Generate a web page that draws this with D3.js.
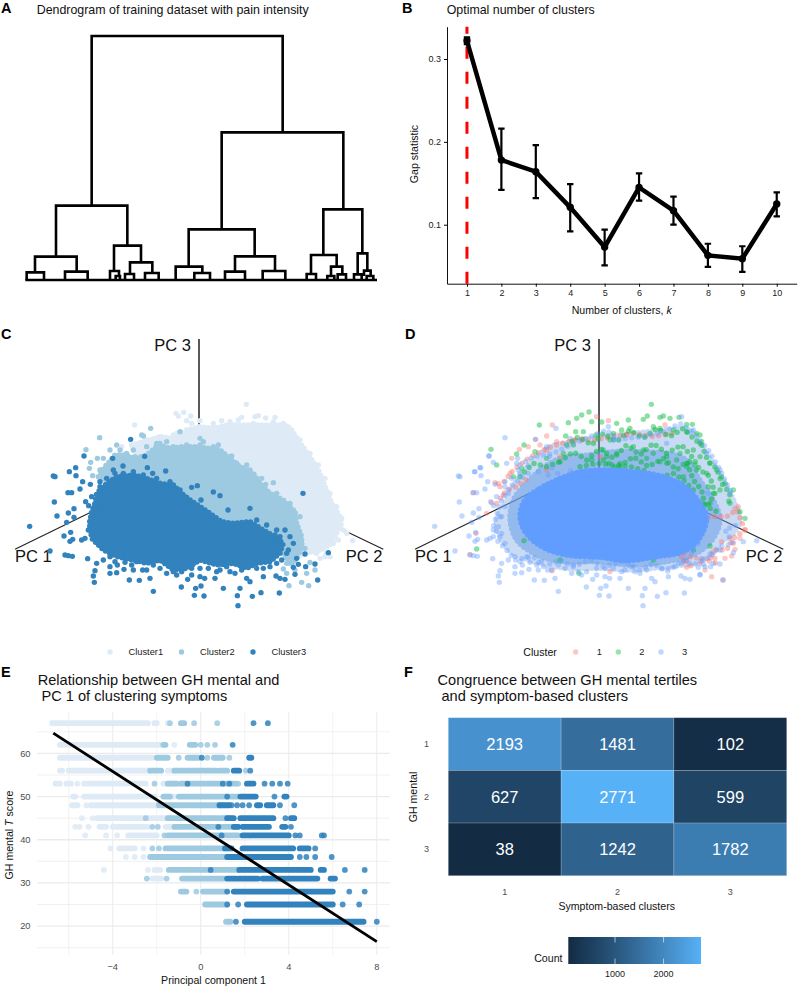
<!DOCTYPE html>
<html>

<head>
    <meta charset="utf-8">
    <style>
        body {
            margin: 0;
            background: white;
            font-family: 'Liberation Sans', Arial, sans-serif;
        }

        svg {
            display: block;
        }

        text {
            font-family: 'Liberation Sans', Arial, sans-serif;
        }
    </style>
</head>

<body>
    <svg width="800" height="988"></svg>
</body>

<script src="https://d3js.org/d3.v7.min.js"></script>

<script>
    // panel A: [left x, right x, merge height, left child height, right child height]
    let dendroMerges = [
        [275, 848, 732, 225, 443],
        [665, 1030, 443, 152, 212],
        [168, 382, 223, 72, 103],
        [105, 230, 70, 25, 25],
        [80, 132, 23, 0, 0],
        [195, 263, 25, 0, 0],
        [342, 423, 103, 27, 55],
        [330, 357, 27, 0, 12],
        [347, 360, 12, 0, 0],
        [390, 457, 53, 18, 22],
        [375, 402, 18, 0, 0],
        [435, 476, 21, 0, 0],
        [566, 764, 152, 40, 71],
        [527, 607, 40, 0, 21],
        [583, 630, 21, 0, 0],
        [705, 825, 71, 25, 27],
        [675, 735, 25, 0, 0],
        [788, 856, 27, 0, 0],
        [970, 1087, 212, 75, 80],
        [933, 1010, 75, 18, 40],
        [920, 948, 18, 0, 0],
        [993, 1027, 40, 12, 17],
        [982, 1003, 12, 0, 0],
        [1013, 1038, 17, 0, 0],
        [1073, 1102, 80, 17, 28],
        [1062, 1085, 17, 0, 0],
        [1092, 1112, 28, 12, 12],
        [1100, 1120, 12, 0, 0]
    ]

    // panel B
    let kValues = [1, 2, 3, 4, 5, 6, 7, 8, 9, 10]
    let gapValues = [.322, .178, .164, .121, .073, .145, .117, .063, .059, .125]
    let gapHigh = [.326, .216, .196, .149, .094, .162, .134, .077, .074, .139]
    let gapLow = [.318, .142, .132, .092, .051, .129, .100, .049, .043, .110]

    // panels C and D: projected positions
    let cloud1 = [[395,345],[430,335],[480,320],[520,325],[560,300],[600,290],[640,295],[680,285],[720,285],[770,285],[830,285],[860,285],[885,315],[905,345],[930,380],[955,420],[970,455],[985,495],[1000,530],[1018,555],[1025,580],[1010,610],[995,640],[975,655],[945,665],[915,668],[880,690],[800,600],[600,500],[420,400]]
    let cloud2 = [[295,440],[315,410],[345,375],[375,375],[405,385],[440,375],[475,345],[510,355],[545,350],[590,350],[630,355],[660,360],[690,385],[720,410],[760,430],[780,460],[810,490],[850,510],[885,545],[890,580],[905,620],[905,655],[880,700],[860,690],[840,650],[600,560],[400,500]]
    let cloud3 = [[285,520],[290,490],[320,460],[350,440],[400,435],[440,445],[480,460],[520,465],[545,490],[570,510],[600,530],[630,550],[665,575],[700,580],[750,575],[790,600],[825,620],[850,640],[840,670],[810,695],[770,700],[740,715],[700,700],[650,705],[600,690],[560,715],[520,720],[480,690],[440,700],[400,690],[350,680],[310,660],[275,625],[268,580],[275,545]]

    let points1 = [[739,223],[528,250],[551,247],[572,258],[535,258],[560,272],[575,280],[600,272],[640,280],[665,272],[690,275],[715,270],[725,262],[765,260],[775,257],[797,264],[825,262],[820,275],[404,285],[480,320],[530,310],[1020,590],[1040,610],[1058,632],[1015,630],[990,680],[960,685],[975,680],[940,660],[1005,560],[1000,545],[365,350],[395,345],[640,290],[700,285],[760,280],[850,280],[875,300],[900,330],[930,370],[955,405],[975,445],[990,490],[1010,530],[1025,565],[1030,600],[1000,640],[980,670],[950,670],[600,300],[560,300],[520,315],[480,335],[440,330]]
    let points2 = [[299,323],[258,359],[430,318],[452,295],[425,315],[272,397],[268,415],[278,437],[867,767],[905,757],[926,767],[920,730],[945,720],[930,697],[860,730],[850,717],[600,325],[600,345],[540,305],[820,458],[797,463],[350,345],[330,360],[310,385],[292,385],[380,370],[405,380],[480,340],[520,350],[655,345],[695,378],[740,405],[885,548],[880,600],[875,680],[915,655],[330,405],[300,420],[360,360],[400,360],[440,350],[470,340],[500,335],[560,345],[610,335],[640,350],[670,370],[710,400],[750,420],[785,445],[830,490],[870,520],[900,560],[895,610],[905,640],[870,700],[885,720],[860,700]]
    let points3 = [[89,589],[160,438],[165,440],[208,425],[227,413],[228,437],[252,378],[338,385],[392,328],[434,379],[369,408],[248,455],[240,477],[271,463],[204,488],[215,488],[163,516],[257,515],[266,527],[171,558],[205,549],[222,536],[222,562],[200,577],[192,618],[212,607],[210,634],[218,628],[245,630],[255,625],[150,663],[195,675],[205,677],[217,679],[263,686],[290,700],[285,722],[280,738],[283,757],[330,710],[352,705],[330,730],[350,728],[375,697],[372,718],[388,750],[418,751],[450,745],[400,720],[428,720],[440,720],[460,784],[544,771],[563,748],[575,735],[587,775],[603,768],[583,796],[612,798],[600,740],[614,745],[645,745],[670,775],[712,797],[720,775],[714,827],[757,799],[783,788],[750,755],[790,740],[740,745],[838,789],[828,738],[840,745],[855,748],[880,712],[885,733],[895,703],[917,710],[945,702],[953,750],[890,685],[915,672],[985,668],[909,490],[497,423],[458,430],[442,413],[640,486],[660,497],[575,472],[592,467],[684,540],[750,535],[603,510],[300,455],[345,430],[825,615],[865,660],[880,640],[500,730],[520,725],[545,725],[690,725],[660,720],[300,640],[290,610],[280,590],[290,560],[300,530],[310,690],[330,680],[345,695],[365,680],[395,705],[410,695],[460,705],[480,715],[505,705],[530,735],[575,715],[600,715],[625,715],[650,725],[680,710],[705,730],[725,720],[770,715],[790,715],[810,710],[830,700],[845,690],[860,670],[870,620],[840,620],[855,600],[830,600],[800,585],[770,570],[540,480],[510,455],[470,445],[430,435],[400,425],[370,430],[340,420],[320,445],[300,470],[310,490],[275,500],[285,560],[265,600]]

    // panel D, in the picture's own crop of that panel
    let rimD = [[390,400],[450,350],[520,335],[600,320],[700,310],[800,300],[870,300],[905,350],[945,410],[980,470],[1005,520],[1020,570],[1000,610],[960,640],[930,680],[880,700],[800,710],[700,720],[600,715],[500,715],[420,700],[340,670],[300,620],[290,570],[320,510],[350,450]]
    let midD = [[370,470],[420,420],[480,385],[560,375],[640,365],[720,365],[800,370],[860,390],[900,450],[940,510],[960,570],[940,625],[890,670],[800,695],[690,705],[590,695],[490,695],[410,675],[350,630],[330,570],[340,510]]
    let coreD = [[375,510],[420,475],[470,450],[540,425],[620,420],[700,425],[790,440],[855,470],[900,520],[920,565],[895,630],[850,665],[770,680],[680,692],[600,682],[500,675],[425,650],[375,605],[360,555]]
    let greenD = [[754,223],[545,255],[567,246],[575,275],[530,265],[605,276],[505,278],[418,285],[527,305],[550,305],[588,315],[497,318],[650,280],[685,270],[730,268],[742,258],[780,262],[790,258],[810,265],[837,262],[860,283],[877,283],[890,310],[905,335],[900,315],[760,290],[780,295],[820,300],[860,305],[690,295],[665,300],[640,310],[630,330],[610,360],[620,380],[650,370],[660,400],[700,350],[730,360],[760,370],[800,380],[840,370],[860,400],[880,360],[900,380],[930,400],[950,420],[965,440],[975,460],[920,430],[890,420],[850,440],[800,400],[740,460],[760,490],[820,455],[910,520],[930,520],[990,520],[1020,545],[1035,565],[1000,480],[273,358],[290,405],[350,372],[405,365],[372,345],[365,415],[340,440],[230,657],[480,690],[537,730],[372,632],[880,660],[930,648],[910,590],[760,690],[860,410],[870,395],[885,405],[900,340],[575,390],[520,345],[490,370],[440,385],[740,385],[780,395],[830,390],[960,480],[940,490],[925,470]]
    let redD = [[457,285],[406,328],[440,318],[358,358],[385,350],[470,335],[625,272],[590,260],[680,315],[795,285],[310,495],[275,518],[220,488],[285,458],[295,460],[330,430],[228,610],[210,673],[260,550],[456,722],[630,725],[860,712],[930,683],[975,685],[995,678],[1005,658],[970,750],[935,740],[1015,530],[1035,600],[990,625],[965,635],[825,665],[600,380],[440,420],[480,380],[520,330],[545,325],[335,385],[440,360],[420,345],[1005,535],[1020,625],[1000,640],[900,700],[915,720],[850,695]]
    let blueExtraD = [[315,323],[267,378],[240,413],[225,425],[280,397],[468,295],[440,350],[510,325],[625,290],[640,330],[800,340],[845,260],[880,300],[920,370],[960,420],[990,490],[1070,632],[1030,635],[960,660],[940,700],[915,710],[900,735],[350,400],[320,400]]
    let greenArcs = [
        [[500,345],[535,320],[575,345],[610,310],[650,335],[690,300],[730,325],[770,295],[810,320],[850,295],[880,325],[905,345],[925,395],[950,415],[965,460],[990,490],[985,525]],
        [[480,395],[520,365],[560,390],[600,355],[640,385],[680,345],[720,375],[760,340],[800,370],[845,345],[880,385],[900,420],[930,440],[945,490],[920,530],[950,545]],
        [[610,390],[650,415],[700,380],[745,410],[790,385],[830,420],[860,395],[880,450],[905,480],[915,530]],
        [[540,410],[590,400],[640,405],[690,410],[730,420],[770,445],[820,430],[850,450],[880,480]],
        [[360,440],[400,400],[440,410],[480,395]]
    ]
    let redArcs = [
        [[300,470],[340,420],[385,385],[430,360],[470,345],[520,330],[580,330],[640,320],[700,310],[760,320],[820,310]],
        [[290,520],[320,480],[350,470],[390,440]],
        [[880,600],[930,560],[980,560],[1010,540],[1035,600],[1000,625],[980,660],[935,660],[950,700],[915,690],[870,680],[825,660],[880,715]]
    ]
    let blueArcs = [
        [[360,405],[400,380],[460,370],[500,350],[545,330],[620,300],[650,330],[720,320],[780,310],[840,280],[880,310],[925,360],[960,420],[990,480],[1000,490]],
        [[300,620],[280,590],[300,520],[330,470],[370,440]],
        [[280,620],[320,660],[345,690],[400,680],[430,710],[480,690],[520,710],[570,690],[610,710],[670,695],[720,720],[760,700],[800,725],[850,690],[880,705],[930,680],[960,650],[1000,640],[975,600],[1020,580]]
    ]

    let legendC = ["Cluster1", "Cluster2", "Cluster3"]
    let legendD = ["1", "2", "3"]

    // panel E: [T score, PC1 from, PC1 to], a single dot has from == to
    let runs1 = [
        [67,-6.75,-2.4],[67,-2.1,-2],[67,-1.5,-1.5],
        [62,-6.4,-1.8],[62,-1.2,-1.2],
        [59,-6.4,-2.2],
        [56,-6.4,-6.3],[56,-6,-2.3],[56,-1.5,-1.2],
        [53,-6.6,-6.4],[53,-6.1,-5.9],[53,-5.6,-5.6],[53,-5.3,-2.5],[53,-1.7,-.8],
        [50,-5.8,-5.7],[50,-5.3,-2.1],[50,-1.4,-1.2],
        [48,-5.85,-5.6],[48,-5.2,-5.2],[48,-5,-2],
        [45,-5.4,-5.4],[45,-4.9,-4.9],[45,-4.7,-1.3],
        [43,-5.7,-5.7],[43,-5.5,-5.5],[43,-5.1,-5.1],[43,-4.6,-4.3],[43,-4,-2.4],[43,-1.6,-1],
        [41,-5.25,-5.25],[41,-4.3,-4.3],[41,-3.8,-3.8],[41,-3.3,-2],
        [38,-4.1,-4.1],[38,-3.7,-3],[38,-2.6,-2.6],[38,-.95,-.95],
        [36,-3.4,-3.4],[36,-3,-3],[36,-2.6,-2.6],[36,-2,-2],
        [33,-4.4,-4.4],[33,-2.4,-2.4],[33,-2.1,-1.85],
        [31,-2.2,-1.8]
    ]
    let runs2 = [
        [67,-1.4,-1.4],[67,-.9,-.75],[67,-.3,-.3],[67,.75,.75],
        [62,-1.7,-1.6],[62,-.5,-.25],[62,0,0],[62,.3,.3],[62,.65,.65],
        [59,-2,-1.5],[59,-1,-1],[59,-.6,-.1],[59,.3,.3],[59,.6,1],[59,1.3,1.3],
        [56,-2.3,-1.8],[56,-1.2,.7],[56,.85,1.2],[56,2.05,2.05],
        [53,-2.1,-2.1],[53,-1.5,-1.1],[53,-.9,-.6],[53,-.5,1.6],[53,1.7,1.7],
        [50,-1.7,-1.4],[50,-1,1.7],
        [48,-1.9,.9],
        [45,-2.5,-2.5],[45,-1.5,1.3],
        [43,-2.2,-2.2],[43,-1.95,-1.95],[43,-1.2,.9],[43,1,1.7],
        [41,-1.65,-1.65],[41,-1.5,1.7],
        [38,-2.2,-2.2],[38,-1.9,-1.9],[38,-1.6,1.1],
        [36,-2.3,-2.1],[36,-2,1.1],
        [33,-1.45,1.7],
        [31,-2.45,-2.45],[31,-1.55,-1.55],[31,-.85,1.1],
        [28,-.9,-.65],[28,-.2,-.2],[28,.1,1.2],
        [25,.2,1.2],
        [21,1.15,1.35]
    ]
    let runs3 = [
        [67,2.4,2.4],[67,3.05,3.05],
        [62,1.45,1.45],
        [59,.05,.05],[59,2.2,2.3],
        [56,1.5,1.75],[56,2.25,2.25],
        [53,-.6,-.6],[53,1,1],[53,1.3,1.3],[53,2.1,2.4],[53,2.9,2.9],[53,3.25,3.25],[53,3.6,3.6],[53,3.95,3.95],
        [50,1.2,1.2],[50,1.8,2.5],[50,3.35,3.35],[50,3.8,3.9],
        [48,.85,1.3],[48,1.4,1.4],[48,1.65,1.65],[48,1.9,1.9],[48,2.2,2.2],[48,2.55,2.7],[48,3,3.3],[48,3.6,3.6],[48,4.25,4.25],
        [45,1.2,1.5],[45,1.8,3.3],[45,3.85,3.85],[45,4.1,4.25],
        [43,.8,.8],[43,1.5,1.7],[43,1.9,3.1],[43,3.7,3.85],[43,4.1,4.1],
        [41,.95,.95],[41,1.9,2.2],[41,2.3,4],[41,4.3,4.3],[41,4.5,4.5],[41,5.5,5.5],[41,5.6,5.6],
        [38,1.1,1.4],[38,1.9,4.2],[38,4.5,4.9],[38,5.2,5.2],
        [36,1.2,4.1],[36,4.5,4.5],[36,4.8,4.8],[36,5.2,5.2],[36,5.95,5.95],
        [33,.45,.45],[33,1.75,5],[33,5.45,5.6],[33,6.55,6.55],[33,7.45,7.45],
        [31,1.2,1.6],[31,1.7,2.6],[31,2.8,5.3],[31,5.9,6.1],
        [28,1.2,1.2],[28,1.5,6],[28,6.75,6.75],[28,7.45,7.45],
        [25,1.2,1.2],[25,1.7,1.7],[25,2.1,5.8],[25,5.9,6],[25,6.45,6.45],[25,7.2,7.2],
        [21,1.6,1.6],[21,2,7.4],[21,8,8]
    ]
    let fitLine = [[-6.7, 64.7], [8, 16.4]]
    let xMajorE = [-4, 0, 4, 8]
    let xMinorE = [-6, -2, 2, 6]
    let yMajorE = [20, 30, 40, 50, 60]
    let yMinorE = [15, 25, 35, 45, 55, 65]

    // panel F
    let tertiles = [1, 2, 3]
    let clusters = [1, 2, 3]
    let counts = [
        [2193, 1481, 102],
        [627, 2771, 599],
        [38, 1242, 1782]
    ]
    let countTicks = [1000, 2000]

    let svg = d3.select("svg")

    function label(x, y, str, size, opts) {
        opts = opts || {}
        return svg.append("text")
            .attr("x", x)
            .attr("y", y)
            .attr("font-size", size)
            .attr("font-weight", opts.weight || "normal")
            .attr("fill", opts.fill || "#111")
            .attr("text-anchor", opts.anchor || "start")
            .text(str)
    }

    // panel letters and titles
    label(1, 13, "A", 14.5, { weight: "bold", fill: "#000" })
    label(402, 13, "B", 14.5, { weight: "bold", fill: "#000" })
    label(1, 339, "C", 14.5, { weight: "bold", fill: "#000" })
    label(405, 339, "D", 14.5, { weight: "bold", fill: "#000" })
    label(1, 677, "E", 14.5, { weight: "bold", fill: "#000" })
    label(404, 677, "F", 14.5, { weight: "bold", fill: "#000" })

    label(36.7, 13.5, "Dendrogram of training dataset with pain intensity", 12.4)
    label(446.7, 14, "Optimal number of clusters", 12.4)
    label(37.7, 684.5, "Relationship between GH mental and", 14.6)
    label(41.5, 700.5, "PC 1 of clustering symptoms", 14.6)
    label(437.5, 684.5, "Congruence between GH mental tertiles", 14.6)
    label(441.5, 700.5, "and symptom-based clusters", 14.6)

    // A: dendrogram
    let xDendro = d3.scaleLinear().domain([0, 1200]).range([0, 400])
    let yDendro = d3.scaleLinear().domain([0, 732]).range([280, 36])

    let gDendro = svg.append("g")
        .attr("fill", "none")
        .attr("stroke", "#000")
        .attr("stroke-width", 2.6)

    gDendro.selectAll("path")
        .data(dendroMerges)
        .join("path")
        .attr("d", d => {
            return "M" + xDendro(d[0]) + "," + yDendro(d[3]) +
                "V" + yDendro(d[2]) +
                "H" + xDendro(d[1]) +
                "V" + yDendro(d[4])
        })

    gDendro.append("line")
        .attr("x1", xDendro(76))
        .attr("x2", xDendro(1131))
        .attr("y1", yDendro(0))
        .attr("y2", yDendro(0))

    // B: gap statistic
    let xGap = d3.scaleLinear().domain([.42, 10.58]).range([447, 796.7])
    let yGap = d3.scaleLinear().domain([.0288, .339]).range([283.7, 26.7])

    let axisGapX = svg.append("g")
        .attr("transform", "translate(0,283.7)")
        .call(d3.axisBottom(xGap).tickValues(kValues).tickFormat(d3.format("d")).tickSize(3).tickSizeOuter(0))
    let axisGapY = svg.append("g")
        .attr("transform", "translate(447,0)")
        .call(d3.axisLeft(yGap).tickValues([.1, .2, .3]).tickFormat(d3.format(".1f")).tickSize(3).tickSizeOuter(0))

    for (let a of [axisGapX, axisGapY]) {
        a.selectAll("text").attr("font-size", 9).attr("fill", "#222").attr("font-family", "'Liberation Sans'")
        a.select(".domain").attr("stroke", "#111").attr("stroke-width", 1)
    }

    svg.append("line")
        .attr("x1", xGap(1))
        .attr("x2", xGap(1))
        .attr("y1", yGap.range()[0])
        .attr("y2", yGap.range()[1])
        .attr("stroke", "#ff0000")
        .attr("stroke-width", 3)
        .attr("stroke-dasharray", "12,13")

    svg.append("path")
        .datum(kValues)
        .attr("d", d3.line().x(d => xGap(d)).y((d, i) => yGap(gapValues[i])))
        .attr("fill", "none")
        .attr("stroke", "#000")
        .attr("stroke-width", 4.5)

    let gapBars = svg.append("g").attr("stroke", "#000").attr("stroke-width", 2.2)
    gapBars.selectAll(".bar")
        .data(kValues)
        .join("path")
        .attr("fill", "none")
        .attr("d", (d, i) => {
            let x = xGap(d)
            return "M" + (x - 3.2) + "," + yGap(gapHigh[i]) + "H" + (x + 3.2) +
                "M" + x + "," + yGap(gapHigh[i]) + "V" + yGap(gapLow[i]) +
                "M" + (x - 3.2) + "," + yGap(gapLow[i]) + "H" + (x + 3.2)
        })

    svg.append("g").selectAll("circle")
        .data(kValues)
        .join("circle")
        .attr("cx", d => xGap(d))
        .attr("cy", (d, i) => yGap(gapValues[i]))
        .attr("r", 3.7)
        .attr("fill", "#000")

    label(621.7, 313.5, "Number of clusters, ", 10.6, { anchor: "middle" })
        .append("tspan").attr("font-style", "italic").text("k")
    label(0, 0, "Gap statistic", 10.6, { anchor: "middle" })
        .attr("transform", "translate(418,154) rotate(-90)")

    // C and D: projected clouds
    let yCloud = d3.scaleLinear().domain([0, 990]).range([330, 660])
    let xC = d3.scaleLinear().domain([0, 1200]).range([0, 400])
    let xD = d3.scaleLinear().domain([0, 1200]).range([400, 800])
    let xDshift = d3.scaleLinear().domain([0, 1200]).range([405, 805])

    function pcAxes(x) {
        let g = svg.append("g").attr("stroke", "#222")
        g.append("line").attr("x1", x(597)).attr("x2", x(597)).attr("y1", yCloud(27)).attr("y2", yCloud(480)).attr("stroke-width", 1.5)
        g.append("line").attr("x1", x(45)).attr("x2", x(450)).attr("y1", yCloud(658)).attr("y2", yCloud(460)).attr("stroke-width", 1.1)
        g.append("line").attr("x1", x(1150)).attr("x2", x(800)).attr("y1", yCloud(658)).attr("y2", yCloud(490)).attr("stroke-width", 1.1)
        label(x(463), yCloud(63), "PC 3", 16.5)
        label(x(45), yCloud(695), "PC 1", 16.5)
        label(x(1037), yCloud(695), "PC 2", 16.5)
    }

    function blob(x, outline, color, opacity, curve) {
        let path = d3.line().x(d => x(d[0])).y(d => yCloud(d[1])).curve(curve || d3.curveLinearClosed)
        let g = svg.append("g").attr("opacity", opacity)
        g.append("path")
            .datum(outline)
            .attr("d", path)
            .attr("fill", color)
        // bead the edge so it reads as overlapping dots
        g.append("path")
            .datum(outline)
            .attr("d", path)
            .attr("fill", "none")
            .attr("stroke", color)
            .attr("stroke-width", 5.4)
            .attr("stroke-linecap", "round")
            .attr("stroke-dasharray", "0,4.5")
    }

    function beads(x, arcs, color, opacity) {
        svg.append("g").selectAll("path")
            .data(arcs)
            .join("path")
            .attr("d", d3.line().x(d => x(d[0])).y(d => yCloud(d[1])))
            .attr("fill", "none")
            .attr("stroke", color)
            .attr("stroke-width", 5.4)
            .attr("stroke-linecap", "round")
            .attr("stroke-dasharray", "0,6.5")
            .attr("opacity", opacity)
    }

    function dots(x, pts, color, opacity) {
        svg.append("g").selectAll("circle")
            .data(pts)
            .join("circle")
            .attr("cx", d => x(d[0]))
            .attr("cy", d => yCloud(d[1]))
            .attr("r", 2.7)
            .attr("fill", color)
            .attr("opacity", opacity)
    }

    pcAxes(xC)
    blob(xC, cloud1, "#deebf7", 1)
    dots(xC, points1, "#deebf7", 1)
    blob(xC, cloud2, "#9ecae1", 1)
    dots(xC, points2, "#9ecae1", 1)
    blob(xC, cloud3, "#3182bd", 1)
    dots(xC, points3, "#3182bd", 1)

    pcAxes(xD)
    blob(xD, rimD, "#7aa6e6", .4, d3.curveCatmullRomClosed)
    blob(xD, midD, "#6a9fe8", .55, d3.curveCatmullRomClosed)
    beads(xD, redArcs, "#f8766d", .45)
    dots(xD, redD, "#f8766d", .4)
    beads(xD, greenArcs, "#00ba38", .5)
    dots(xD, greenD, "#00ba38", .45)
    beads(xD, blueArcs, "#619cff", .4)
    dots(xDshift, points3, "#619cff", .4)
    dots(xD, blueExtraD, "#619cff", .4)
    blob(xD, coreD, "#619cff", 1, d3.curveCatmullRomClosed)

    // legends of C and D
    let legendCx = d3.scalePoint().domain(legendC).range([110, 253])
    svg.append("g").selectAll("circle")
        .data(legendC)
        .join("circle")
        .attr("cx", d => legendCx(d))
        .attr("cy", 652)
        .attr("r", 2.7)
        .attr("fill", (d, i) => ["#deebf7", "#9ecae1", "#3182bd"][i])
    legendC.forEach(d => label(legendCx(d) + 18.5, 655.3, d, 9.3, { fill: "#222" }))

    label(523.3, 655.5, "Cluster", 10.6)
    let legendDx = d3.scalePoint().domain(legendD).range([575.7, 661])
    svg.append("g").selectAll("circle")
        .data(legendD)
        .join("circle")
        .attr("cx", d => legendDx(d))
        .attr("cy", 652)
        .attr("r", 2.7)
        .attr("fill", (d, i) => ["#f8766d", "#00ba38", "#619cff"][i])
        .attr("opacity", .4)
    legendD.forEach(d => label(legendDx(d) + 21, 655.3, d, 9.3, { fill: "#222" }))

    // E: GH mental against PC 1
    let xE = d3.scaleLinear().domain([-7.44, 8.6]).range([37, 390])
    let yE = d3.scaleLinear().domain([13.3, 69.6]).range([955, 712])

    let gridE = svg.append("g").attr("stroke", "#ebebeb")
    gridE.selectAll(".major-x").data(xMajorE).join("line")
        .attr("x1", d => xE(d)).attr("x2", d => xE(d)).attr("y1", 712).attr("y2", 955).attr("stroke-width", 1)
    gridE.selectAll(".minor-x").data(xMinorE).join("line")
        .attr("x1", d => xE(d)).attr("x2", d => xE(d)).attr("y1", 712).attr("y2", 955).attr("stroke-width", .6)
    let gridEy = svg.append("g").attr("stroke", "#ebebeb")
    gridEy.selectAll(".major-y").data(yMajorE).join("line")
        .attr("y1", d => yE(d)).attr("y2", d => yE(d)).attr("x1", 37).attr("x2", 390).attr("stroke-width", 1.3)
    let gridEm = svg.append("g").attr("stroke", "#ebebeb")
    gridEm.selectAll(".minor-y").data(yMinorE).join("line")
        .attr("y1", d => yE(d)).attr("y2", d => yE(d)).attr("x1", 37).attr("x2", 390).attr("stroke-width", .7)

    function strips(runs, color) {
        svg.append("g").selectAll("line")
            .data(runs)
            .join("line")
            .attr("x1", d => xE(d[1]))
            .attr("x2", d => xE(d[2]))
            .attr("y1", d => yE(d[0]))
            .attr("y2", d => yE(d[0]))
            .attr("stroke", color)
            .attr("stroke-width", 5.8)
            .attr("stroke-linecap", "round")
            .attr("opacity", d => d[1] == d[2] ? .85 : 1)
    }
    strips(runs1, "#deebf7")
    strips(runs2, "#9ecae1")
    strips(runs3, "#3182bd")

    svg.append("path")
        .datum(fitLine)
        .attr("d", d3.line().x(d => xE(d[0])).y(d => yE(d[1])))
        .attr("stroke", "#000")
        .attr("stroke-width", 2.8)
        .attr("fill", "none")

    xMajorE.forEach(d => label(xE(d), 969.5, d3.format("d")(d).replace("-", "\u2212"), 9.3, { anchor: "middle", fill: "#4d4d4d" }))
    yMajorE.forEach(d => label(30.5, yE(d) + 3.2, d, 9.3, { anchor: "end", fill: "#4d4d4d" }))

    label(213.5, 984, "Principal component 1", 10.6, { anchor: "middle" })
    let yTitleE = label(0, 0, "GH mental ", 10.6, { anchor: "middle" })
        .attr("transform", "translate(13,835) rotate(-90)")
    yTitleE.append("tspan").attr("font-style", "italic").text("T")
    yTitleE.append("tspan").text(" score")

    // F: heatmap
    let xF = d3.scaleBand().domain(clusters).range([448.3, 786.7])
    let yF = d3.scaleBand().domain(tertiles).range([717.7, 875.7])
    let colorF = d3.scaleLinear().domain([38, 2771]).range(["#132b43", "#56b1f7"]).interpolate(d3.interpolateLab)

    let rowsF = svg.append("g").selectAll("g")
        .data(counts)
        .join("g")

    rowsF.selectAll("rect")
        .data((row, i) => row.map((v, j) => ({ v: v, row: tertiles[i], col: clusters[j] })))
        .join("rect")
        .attr("x", d => xF(d.col))
        .attr("y", d => yF(d.row))
        .attr("width", xF.bandwidth())
        .attr("height", yF.bandwidth())
        .attr("fill", d => colorF(d.v))
        .attr("stroke", "#ffffff")
        .attr("stroke-opacity", .25)
        .attr("stroke-width", .7)

    rowsF.selectAll("text")
        .data((row, i) => row.map((v, j) => ({ v: v, row: tertiles[i], col: clusters[j] })))
        .join("text")
        .attr("x", d => xF(d.col) + xF.bandwidth() / 2)
        .attr("y", d => yF(d.row) + yF.bandwidth() / 2 + 6)
        .attr("text-anchor", "middle")
        .attr("font-size", 16.5)
        .attr("fill", "#fff")
        .text(d => d.v)

    clusters.forEach(d => label(xF(d) + xF.bandwidth() / 2, 895, d, 9, { anchor: "middle", fill: "#4d4d4d" }))
    tertiles.forEach(d => label(429, yF(d) + yF.bandwidth() / 2 + 3, d, 9, { anchor: "end", fill: "#4d4d4d" }))

    label(616.7, 909.5, "Symptom-based clusters", 10.6, { anchor: "middle" })
    label(0, 0, "GH mental", 10.6, { anchor: "middle" })
        .attr("transform", "translate(417,797) rotate(-90)")

    // colour bar
    let xBar = d3.scaleLinear().domain([38, 2771]).range([568.3, 701])
    let grad = svg.append("defs").append("linearGradient").attr("id", "count-grad")
    grad.selectAll("stop")
        .data(d3.range(0, 1.01, .1))
        .join("stop")
        .attr("offset", d => d)
        .attr("stop-color", d => colorF(38 + d * (2771 - 38)))

    svg.append("rect")
        .attr("x", xBar.range()[0])
        .attr("y", 937)
        .attr("width", xBar.range()[1] - xBar.range()[0])
        .attr("height", 27)
        .attr("fill", "url(#count-grad)")

    svg.append("g").selectAll("path")
        .data(countTicks)
        .join("path")
        .attr("d", d => "M" + xBar(d) + ",937v5.4M" + xBar(d) + ",964v-5.4")
        .attr("stroke", "#fff")
        .attr("stroke-width", .6)

    countTicks.forEach(d => label(xBar(d), 976.5, d, 9, { anchor: "middle", fill: "#222" }))
    label(562.5, 962, "Count", 10.6, { anchor: "end" })
</script>

</html>
